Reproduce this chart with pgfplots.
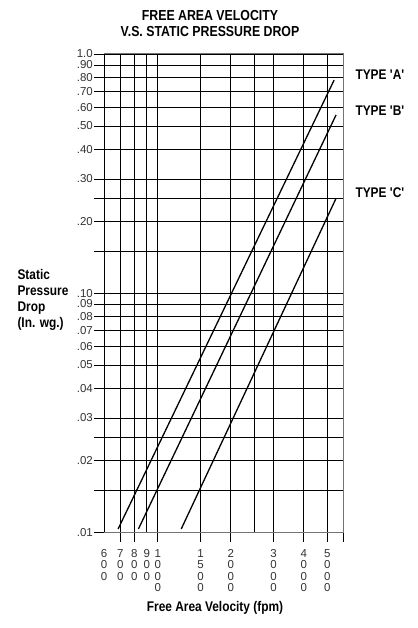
\documentclass[border=0pt]{standalone}
\usepackage{pgfplots}
\pgfplotsset{compat=1.18}
\usepackage{fontspec}
\setmainfont{Liberation Sans}
\newfontfamily\cond[FakeStretch=0.85]{Liberation Sans}

\begin{document}
\begin{tikzpicture}[x=1pt,y=1pt]
\useasboundingbox (0,0) rectangle (417,628);
\begin{axis}[
    at={(104pt,96pt)}, anchor=south west,
    scale only axis, width=239pt, height=478pt,
    xmode=log, ymode=log,
    xmin=600, xmax=5800, ymin=0.01, ymax=1,
    axis line style={black!55, line width=1pt},
    grid=major,
    major grid style={black, line width=0.75pt},
    tick align=outside, tick pos=left,
    major tick length=10pt,
    minor tick num=0,
    tick style={black, line width=0.75pt},
    xtick={700,800,1000,1500,2000,3000,4000,5000,5800},
    xticklabels={{7\\0\\0},{8\\0\\0},{1\\0\\0\\0},{1\\5\\0\\0},{2\\0\\0\\0},{3\\0\\0\\0},{4\\0\\0\\0},{5\\0\\0\\0},{}},
    extra x ticks={600,900,2500},
    extra x tick labels={{6\\0\\0},{9\\0\\0},{}},
    extra x tick style={grid=major, tick style={draw=none}},
    xticklabel style={align=center, text=black!80, yshift=-4pt, font=\fontsize{11.5}{11.3}\selectfont},
    ytick={0.01,0.015,0.02,0.025,0.03,0.04,0.05,0.06,0.07,0.08,0.09,0.1,0.15,0.2,0.25,0.3,0.4,0.5,0.6,0.7,0.8,0.9,1},
    yticklabels={.01,{},.02,{},.03,.04,.05,.06,.07,.08,.09,.10,{},.20,{},.30,.40,.50,.60,.70,.80,.90,1.0},
    yticklabel style={text=black!80, font=\fontsize{11.5}{12}\selectfont, inner xsep=1pt,
      inner ysep=0pt, text height=8pt, text depth=0pt},
]
% Type 'A'
\addplot[black, line width=1.3pt] coordinates {(686,0.0103) (5330,0.778)};
% Type 'B'
\addplot[black, line width=1.3pt] coordinates {(832,0.0103) (5430,0.556)};
% Type 'C'
\addplot[black, line width=1.3pt] coordinates {(1249,0.0103) (5430,0.249)};
\end{axis}

\node[font=\cond\bfseries\fontsize{14.5}{16.5}\selectfont, align=center] at (210,604.5)
  {FREE AREA VELOCITY\\V.S. STATIC PRESSURE DROP};
\node[font=\cond\bfseries\fontsize{14}{16}\selectfont, align=left, anchor=west] at (14,328)
  {Static\\Pressure\\Drop\\(In. wg.)};
\node[font=\cond\bfseries\fontsize{14}{16}\selectfont] at (215,20) {Free Area Velocity (fpm)};
\node[font=\cond\bfseries\fontsize{14}{16}\selectfont, anchor=west] at (352,553) {TYPE 'A'};
\node[font=\cond\bfseries\fontsize{14}{16}\selectfont, anchor=west] at (352,517) {TYPE 'B'};
\node[font=\cond\bfseries\fontsize{14}{16}\selectfont, anchor=west] at (352,435) {TYPE 'C'};
\end{tikzpicture}
\end{document}
